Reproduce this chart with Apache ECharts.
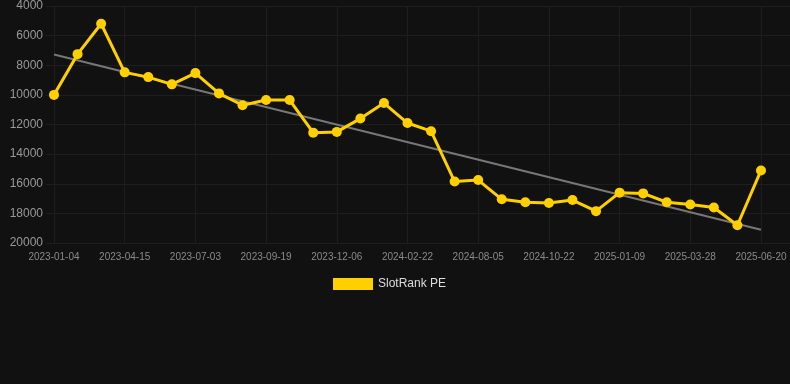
<!DOCTYPE html>
<html>
<head>
<meta charset="utf-8">
<script src="https://cdn.jsdelivr.net/npm/echarts@6/dist/echarts.min.js"></script>
<style>
html,body{margin:0;padding:0;background:#111111;}
#chart{width:790px;height:384px;}
</style>
</head>
<body>
<div id="chart"></div>
<script>
var categories = [
  '2023-01-04','2023-02-07','2023-03-13','2023-04-15','2023-05-11','2023-06-07',
  '2023-07-03','2023-07-29','2023-08-24','2023-09-19','2023-10-15','2023-11-10',
  '2023-12-06','2024-01-01','2024-01-27','2024-02-22','2024-04-15','2024-06-10',
  '2024-08-05','2024-08-31','2024-09-26','2024-10-22','2024-11-17','2024-12-14',
  '2025-01-09','2025-02-04','2025-03-02','2025-03-28','2025-04-25','2025-05-23',
  '2025-06-20'
];
var rankValues = [
  10000, 7250, 5200, 8480, 8800, 9290, 8530, 9900, 10700, 10350, 10350,
  12550, 12500, 11600, 10550, 11900, 12450, 15850, 15750, 17050, 17250,
  17300, 17100, 17850, 16600, 16650, 17250, 17400, 17600, 18800, 15100
];
var trendStart = 7270;
var trendEnd = 19100;
var yMin = 4000, yMax = 20000, yStep = 2000;

var trendData = categories.map(function (c, i) {
  if (i === 0) return trendStart;
  if (i === categories.length - 1) return trendEnd;
  return null;
});

var chart = echarts.init(document.getElementById('chart'));
var gridCol = '#1e1e1e';
chart.setOption({
  backgroundColor: '#111111',
  animation: false,
  grid: [
    { left: 46, right: 0, top: 6, bottom: 141 },
    { left: 54, right: 29, top: 6, bottom: 141 }
  ],
  legend: {
    data: ['SlotRank PE'],
    left: 333,
    top: 278,
    padding: 0,
    icon: 'rect',
    itemWidth: 40,
    itemHeight: 12,
    itemGap: 10,
    textStyle: { color: '#dddddd', fontSize: 12, fontFamily: 'Liberation Sans, Arial, sans-serif' }
  },
  xAxis: [
    { gridIndex: 0, type: 'value', show: false, min: 0, max: 1 },
    {
      gridIndex: 1,
      type: 'category',
      data: categories,
      boundaryGap: false,
      axisLine: { show: false },
      axisTick: { show: false },
      axisLabel: {
        interval: 2,
        color: '#8a8a8a',
        fontSize: 10,
        margin: 9,
        fontFamily: 'Liberation Sans, Arial, sans-serif'
      },
      splitLine: { show: true, interval: 2, lineStyle: { color: gridCol, width: 1 } }
    }
  ],
  yAxis: [
    {
      gridIndex: 0,
      type: 'value',
      inverse: true,
      min: yMin, max: yMax, interval: yStep,
      axisLine: { show: false },
      axisTick: { show: false },
      axisLabel: {
        color: '#999999',
        fontSize: 12,
        margin: 3,
        formatter: function (v) { return String(v); },
        fontFamily: 'Liberation Sans, Arial, sans-serif'
      },
      splitLine: { show: true, lineStyle: { color: gridCol, width: 1 } }
    },
    {
      gridIndex: 1,
      type: 'value',
      inverse: true,
      min: yMin, max: yMax, interval: yStep,
      axisLine: { show: false },
      axisTick: { show: false },
      axisLabel: { show: false },
      splitLine: { show: false }
    }
  ],
  series: [
    {
      name: 'Trend',
      type: 'line',
      xAxisIndex: 1,
      yAxisIndex: 1,
      data: trendData,
      connectNulls: true,
      showSymbol: false,
      symbol: 'none',
      lineStyle: { color: '#777777', width: 2 },
      silent: true,
      z: 2
    },
    {
      name: 'SlotRank PE',
      type: 'line',
      xAxisIndex: 1,
      yAxisIndex: 1,
      data: rankValues,
      symbol: 'circle',
      symbolSize: 10,
      itemStyle: { color: '#FFD000' },
      lineStyle: { color: '#FFD000', width: 3 },
      z: 3
    }
  ]
});
</script>
</body>
</html>
